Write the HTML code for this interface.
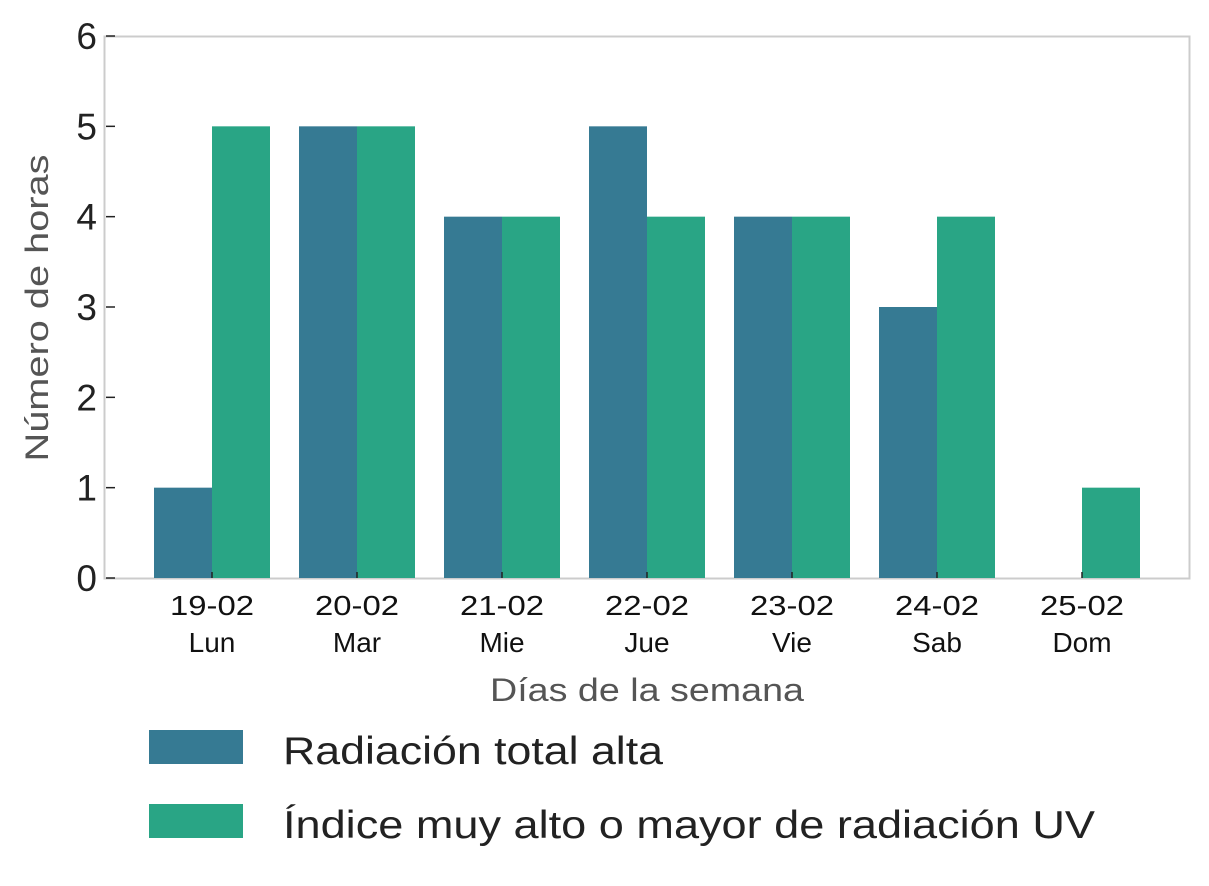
<!DOCTYPE html>
<html><head><meta charset="utf-8">
<style>
html,body{margin:0;padding:0;background:#fff;}
svg{display:block;font-family:"Liberation Sans",sans-serif;}
</style></head>
<body>
<svg id="chart" width="1209" height="886" viewBox="0 0 1209 886" xmlns="http://www.w3.org/2000/svg">
<rect x="104.5" y="36.5" width="1085" height="542" fill="none" stroke="#cccccc" stroke-width="2"/>
<g id="bars"></g>
<g id="yticks"></g>
<g id="xticks"></g>
<text transform="translate(48,308) rotate(-90)" text-anchor="middle" font-size="32" fill="#555" textLength="307" lengthAdjust="spacingAndGlyphs">Número de horas</text>
<text x="647" y="701" text-anchor="middle" font-size="32" fill="#555" textLength="314" lengthAdjust="spacingAndGlyphs">Días de la semana</text>
<rect x="149" y="730" width="94" height="34" fill="#367a93"/>
<text x="283" y="764" font-size="39" fill="#222" textLength="380" lengthAdjust="spacingAndGlyphs">Radiación total alta</text>
<rect x="149" y="804" width="94" height="34" fill="#29a585"/>
<text x="283" y="838" font-size="39" fill="#222" textLength="812" lengthAdjust="spacingAndGlyphs">Índice muy alto o mayor de radiación UV</text>
</svg>
<script>
const dates = ["19-02","20-02","21-02","22-02","23-02","24-02","25-02"];
const days = ["Lun","Mar","Mie","Jue","Vie","Sab","Dom"];
const radiacion = [1,5,4,5,4,3,0];
const uvIndex = [5,5,4,4,4,4,1];
const yTicks = [0,1,2,3,4,5,6];

(function(){
const NS="http://www.w3.org/2000/svg";
const plotLeft=104, plotRight=1190, plotTop=36, plotBottom=578, yMax=6;
const ys = v => plotBottom - (v/yMax)*(plotBottom-plotTop);
const step = 145, x0 = 212;
const xc = i => x0 + i*step;
const bw = 58;
const bars=document.getElementById('bars');
const yt=document.getElementById('yticks');
const xt=document.getElementById('xticks');
function mk(tag, attrs){const e=document.createElementNS(NS,tag);for(const k in attrs)e.setAttribute(k,attrs[k]);return e;}
dates.forEach((d,i)=>{
  const b1=mk('rect',{x:xc(i)-bw,y:ys(radiacion[i]),width:bw,height:plotBottom-ys(radiacion[i]),fill:'#367a93'});
  
  
  bars.appendChild(b1);
  const b2=mk('rect',{x:xc(i),y:ys(uvIndex[i]),width:bw,height:plotBottom-ys(uvIndex[i]),fill:'#29a585'});
  
  
  bars.appendChild(b2);
  const tk=mk('line',{x1:xc(i),x2:xc(i),y1:plotBottom-6,y2:plotBottom,stroke:'#222','stroke-width':1.5});
  
  
  xt.appendChild(tk);
  const t1=mk('text',{x:xc(i),y:615,'text-anchor':'middle','font-size':28,fill:'#111',textLength:84,lengthAdjust:'spacingAndGlyphs'});
  t1.textContent=d;
  
  
  xt.appendChild(t1);
  const t2=mk('text',{x:xc(i),y:652,'text-anchor':'middle','font-size':28,fill:'#111'});
  t2.textContent=days[i];
  
  
  xt.appendChild(t2);
});
yTicks.forEach(v=>{
  const tk=mk('line',{x1:plotLeft+2,x2:plotLeft+11,y1:ys(v),y2:ys(v),stroke:'#222','stroke-width':1.5});
  
  
  yt.appendChild(tk);
  const t=mk('text',{x:97,y:ys(v)+13,'text-anchor':'end','font-size':37,fill:'#222'});
  t.textContent=v;
  
  
  yt.appendChild(t);
});
})();
</script>
</body></html>
